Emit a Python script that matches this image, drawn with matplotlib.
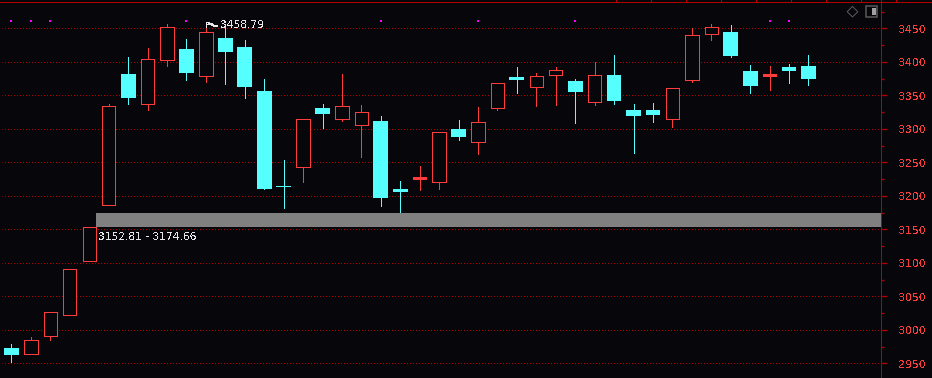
import matplotlib
matplotlib.use("Agg")
import matplotlib.pyplot as plt
from matplotlib.lines import Line2D
from matplotlib.patches import Polygon, Rectangle
from matplotlib.ticker import MultipleLocator
import numpy as np

plt.rcParams["text.antialiased"] = False
plt.rcParams["text.hinting"] = "native"

# ---- data ----
opens = [2972.8, 2964.3, 2991.2, 3022.6, 3103.1, 3186.7, 3381.8, 3337.5, 3403.1, 3419.1, 3379.3,
         3435.5, 3422.1, 3356.4, 3214.2, 3243.4, 3331.0, 3315.1, 3306.1, 3311.6, 3210.2,
         3225.1, 3221.1, 3299.7, 3280.8, 3331.5, 3377.3, 3362.8, 3380.7, 3371.3, 3340.5,
         3380.3, 3328.1, 3328.1, 3315.1, 3373.3, 3441.9, 3444.5, 3386.3, 3378.8, 3392.2, 3393.7]
closes = [2962.4, 2984.3, 3026.1, 3090.3, 3152.81, 3333.6, 3346.0, 3403.7, 3451.5, 3383.3, 3444.0,
          3414.6, 3362.4, 3210.2, 3212.7, 3314.2, 3322.1, 3333.6, 3324.6, 3196.7, 3205.7,
          3228.1, 3294.8, 3287.8, 3309.7, 3367.9, 3372.8, 3378.4, 3387.3, 3354.9, 3379.9,
          3341.5, 3319.1, 3320.6, 3360.4, 3439.6, 3451.5, 3408.7, 3363.9, 3381.8, 3386.3, 3374.3]
highs = [2978.8, 2989.3, 3026.1, 3090.3, 3152.81, 3337.0, 3407.2, 3420.6, 3456.4, 3434.0, 3458.79,
         3451.5, 3432.5, 3374.3, 3253.4, 3314.2, 3337.0, 3381.8, 3335.5, 3319.1, 3222.1,
         3244.5, 3294.8, 3313.1, 3332.5, 3367.9, 3392.2, 3383.3, 3392.2, 3374.3, 3400.1,
         3410.1, 3337.0, 3338.5, 3360.4, 3450.4, 3456.4, 3454.9, 3395.2, 3393.7, 3396.7, 3410.1]
lows = [2951.9, 2964.3, 2985.2, 3022.6, 3103.1, 3186.7, 3337.0, 3328.1, 3394.2, 3372.8, 3369.9,
        3366.9, 3346.0, 3210.2, 3182.2, 3220.6, 3301.2, 3312.1, 3257.9, 3184.8, 3175.8,
        3208.7, 3210.2, 3283.3, 3262.4, 3328.1, 3353.4, 3334.0, 3335.5, 3308.7, 3335.5,
        3337.0, 3263.9, 3310.2, 3302.7, 3369.9, 3432.5, 3407.2, 3353.4, 3357.9, 3368.4, 3365.4]
marker_idx = [0, 1, 2, 9, 19, 24, 29, 39, 40]
gap_low, gap_high = 3152.81, 3174.66
gap_start = 4
peak_idx = 10
peak_val = 3458.79
major_ticks = [2950, 3000, 3050, 3100, 3150, 3200, 3250, 3300, 3350, 3400, 3450]

# ---- style ----
BG = "#07070b"
UP = "#ff3c3c"
DOWN = "#55ffff"
AXIS = "#b40000"
GRID = "#b40000"
W, H = 932, 378
PX = 72 / 100  # one pixel in points

fig = plt.figure(figsize=(W / 100, H / 100), dpi=100, facecolor=BG)
ax = fig.add_axes([0, 0, 881 / W, (H - 1.5) / H], facecolor=BG)

idx = np.arange(len(opens))
opens_a, closes_a = np.array(opens), np.array(closes)
rising = closes_a > opens_a
doji = np.abs(closes_a - opens_a) < 4

ax.set_xlim(-0.59, 44.73)
ax.set_ylim(2928.1, 3490.0)

# grid: one pixel on, two off, aligned to the pixel raster
for t in major_ticks:
    ax.plot([2 / 881, 1], [t, t], transform=ax.get_yaxis_transform(), color=GRID, lw=PX,
            linestyle=(0.5, (1, 2)), dash_capstyle="butt", snap=True, zorder=1)

# gap band
ax.fill_between([gap_start + 0.35, 44.73], gap_low, gap_high, color="#808080", lw=0, zorder=2)

# wicks
ax.vlines(idx[rising], np.array(lows)[rising], np.array(highs)[rising], color=UP, lw=PX,
          antialiased=False, zorder=3)
ax.vlines(idx[~rising], np.array(lows)[~rising], np.array(highs)[~rising], color=DOWN, lw=PX,
          antialiased=False, zorder=3)

# bodies
up_faces = [UP if d else BG for d in doji[rising]]
ax.bar(idx[rising], (closes_a - opens_a)[rising], bottom=opens_a[rising], width=13.4 / 19.44,
       color=up_faces, edgecolor=UP, linewidth=PX, antialiased=False, zorder=4)
ax.bar(idx[~rising], (opens_a - closes_a)[~rising], bottom=closes_a[~rising], width=14.8 / 19.44,
       color=DOWN, edgecolor="none", linewidth=0, antialiased=False, zorder=4)

# magenta markers
marker_y = 3450 + (28.3 - 20.7) / 0.67
ax.scatter(idx[marker_idx], [marker_y] * len(marker_idx), marker="s", s=(2 * PX) ** 2,
           color="#ff00ff", linewidths=0, antialiased=False, zorder=5)

# labels
ax.annotate(f"{peak_val:.2f}", (peak_idx, peak_val), xytext=(14 * PX, -2.5 * PX),
            textcoords="offset points", color="#e8e8e8", fontsize=7.7, va="center", ha="left", zorder=6)
ax.annotate(f"{gap_low:.2f} - {gap_high:.2f}", (gap_start, gap_low), xytext=(9 * PX, -9 * PX),
            textcoords="offset points", color="#e8e8e8", fontsize=7.7, va="center", ha="left", zorder=6)

# right axis
for s in ("left", "top", "bottom", "right"):
    ax.spines[s].set_visible(False)
ax.xaxis.set_visible(False)
ax.yaxis.tick_right()
ax.set_yticks(major_ticks)
ax.yaxis.set_minor_locator(MultipleLocator(25))
ax.tick_params(axis="y", which="major", length=5.5 * PX, width=PX * 1.3, color=AXIS, pad=12 * PX,
               labelcolor=UP, labelsize=7.8)
ax.tick_params(axis="y", which="minor", length=3 * PX, width=PX * 1.3, color=AXIS)


# frame furniture in pixel coordinates
def fx(x):
    return x / W


def fy(y):
    return 1 - y / H


def hline(x0, x1, y, color, lw=PX):
    fig.add_artist(Line2D([fx(x0), fx(x1)], [fy(y), fy(y)], color=color, lw=lw, antialiased=False,
                          transform=fig.transFigure))


def vline(x, y0, y1, color, lw=PX):
    fig.add_artist(Line2D([fx(x), fx(x)], [fy(y0), fy(y1)], color=color, lw=lw, antialiased=False,
                          transform=fig.transFigure))


hline(0, W, 1.5, AXIS)
vline(880.5, 0, H, AXIS)
vline(931.5, 0, H, AXIS)
for x in range(615, 900, 35):
    vline(x + 0.5, 0, 1.5, AXIS)

# flag at the peak
FLAG = "#e8e8e8"
vline(206, 21.5, 26.5, FLAG)
hline(206, 209, 21.5, FLAG)
hline(206, 208, 23.5, FLAG)
fig.add_artist(Line2D([fx(209), fx(212), fx(214), fx(217)], [fy(24), fy(24.5), fy(26), fy(26)],
                      color=FLAG, lw=PX, antialiased=False, transform=fig.transFigure))

# top-right icons
ICON = "#5a5a5a"
cx, cy, r = 852.5, 11.7, 5.3
fig.add_artist(Polygon([(fx(cx - r), fy(cy)), (fx(cx), fy(cy - r)), (fx(cx + r), fy(cy)), (fx(cx), fy(cy + r))],
                       closed=True, fill=False, edgecolor=ICON, lw=PX, transform=fig.transFigure))
fig.add_artist(Rectangle((fx(866), fy(16.5)), 11 / W, 10.5 / H, fill=False, edgecolor=ICON, lw=PX * 1.5,
                         transform=fig.transFigure))
fig.add_artist(Rectangle((fx(872), fy(14.5)), 3.5 / W, 6.5 / H, facecolor="#a0a0a0", edgecolor="none",
                         transform=fig.transFigure))

fig.savefig("out.png", dpi=100, facecolor=BG)
